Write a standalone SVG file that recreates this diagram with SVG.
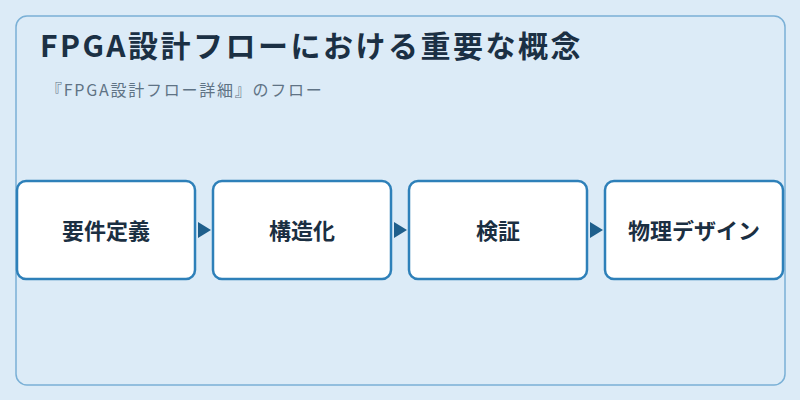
<svg xmlns="http://www.w3.org/2000/svg" width="800" height="400" viewBox="0 0 800 400">
<style>
.node rect{fill:#ffffff;stroke:#2e80b9;stroke-width:2.5}
.node text{font-family:"Noto Sans CJK JP","Noto Sans",sans-serif;font-size:22px;font-weight:bold;fill:#1b2f42;text-anchor:middle}
.title{font-family:"Noto Sans CJK JP","Noto Sans",sans-serif;font-size:30px;font-weight:bold;fill:#1b3044;letter-spacing:2.5px}
.sub{font-family:"Noto Sans CJK JP","Noto Sans",sans-serif;font-size:16px;fill:#5f7385;letter-spacing:1.75px}
</style>
<rect x="0" y="0" width="800" height="400" fill="#dcebf7"/>
<rect x="16" y="16" width="769" height="369" rx="11" fill="#dcebf7" stroke="#7ab0d6" stroke-width="1.5"/>
<text class="title" x="40" y="57">FPGA設計フローにおける重要な概念</text>
<text class="sub" x="46" y="96">『FPGA設計フロー詳細』のフロー</text>
<g id="connectors">
<path d="M198,222 L211,230 L198,238 z" fill="#1f5f8c"/>
<path d="M394,222 L407,230 L394,238 z" fill="#1f5f8c"/>
<path d="M590,222 L603,230 L590,238 z" fill="#1f5f8c"/>
</g>
<g id="n1" class="node"><rect x="17" y="181" width="178" height="98" rx="9"/><text x="106" y="239">要件定義</text></g>
<g id="n2" class="node"><rect x="213" y="181" width="178" height="98" rx="9"/><text x="302" y="239">構造化</text></g>
<g id="n3" class="node"><rect x="409" y="181" width="178" height="98" rx="9"/><text x="498" y="239">検証</text></g>
<g id="n4" class="node"><rect x="605" y="181" width="178" height="98" rx="9"/><text x="694" y="239">物理デザイン</text></g>
</svg>
